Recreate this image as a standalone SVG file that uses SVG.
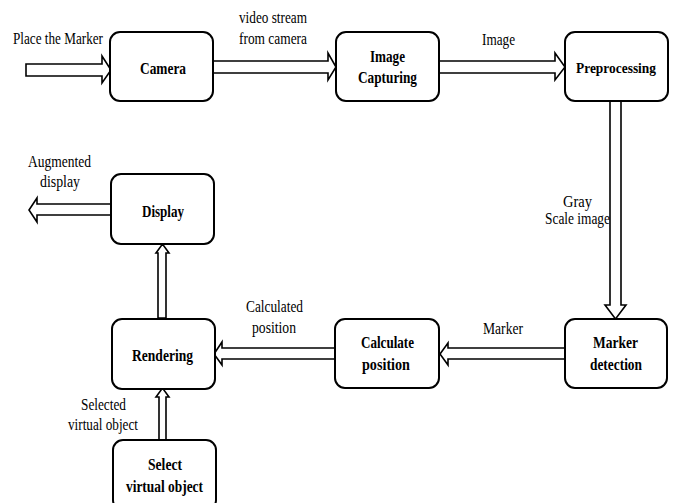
<svg xmlns="http://www.w3.org/2000/svg" width="673" height="503" viewBox="0 0 673 503">
<style>
.box{fill:#fff;stroke:#000;stroke-width:2}
.arr{fill:#fff;stroke:#000;stroke-width:1.6;stroke-linejoin:miter}
.n{font-family:"Liberation Serif","Times New Roman",serif;font-weight:bold;font-size:17px;fill:#000}
.l{font-family:"Liberation Serif","Times New Roman",serif;font-size:16px;fill:#000}
</style>
<rect width="673" height="503" fill="#fff"/>
<g id="connectors">
<polygon class="arr" points="26,64 102,64 102,56 111,70 102,83 102,76 26,76"/>
<polygon class="arr" points="213,61 328,61 328,53 336,67 328,80 328,73 213,73"/>
<polygon class="arr" points="439,61 555,61 555,53 565,67 555,80 555,73 439,73"/>
<polygon class="arr" points="610,101 621,101 621,305 626,305 615.5,319 605,305 610,305"/>
<polygon class="arr" points="565,348 448,348 448,343 440,354 448,365 448,359 565,359"/>
<polygon class="arr" points="335,348 222,348 222,342 214,354 222,365 222,359 335,359"/>
<polygon class="arr" points="158,318 158,253 156,253 162.5,244 169,253 166,253 166,318"/>
<polygon class="arr" points="159,440 159,397 156,397 162.5,388 169,397 166,397 166,440"/>
<polygon class="arr" points="111,204 37,204 37,198 29,210 37,222 37,215 111,215"/>
</g>
<g id="camera"><rect class="box" x="110" y="32" width="103" height="69" rx="10"/><text class="n" x="140" y="74" textLength="46" lengthAdjust="spacingAndGlyphs">Camera</text></g>
<g id="image-capturing"><rect class="box" x="336" y="32" width="103" height="69" rx="10"/><text class="n" x="370" y="62" textLength="35" lengthAdjust="spacingAndGlyphs">Image</text><text class="n" x="358" y="83" textLength="59" lengthAdjust="spacingAndGlyphs">Capturing</text></g>
<g id="preprocessing"><rect class="box" x="565" y="32" width="103" height="69" rx="10"/><text class="n" x="576" y="73" style="font-size:15px" textLength="80" lengthAdjust="spacingAndGlyphs">Preprocessing</text></g>
<g id="marker-detection"><rect class="box" x="565" y="319" width="102" height="69" rx="10"/><text class="n" x="593" y="348" textLength="45" lengthAdjust="spacingAndGlyphs">Marker</text><text class="n" x="590" y="370" textLength="52" lengthAdjust="spacingAndGlyphs">detection</text></g>
<g id="calculate-position"><rect class="box" x="335" y="319" width="104" height="69" rx="10"/><text class="n" x="361" y="348" textLength="53" lengthAdjust="spacingAndGlyphs">Calculate</text><text class="n" x="362" y="370" textLength="48" lengthAdjust="spacingAndGlyphs">position</text></g>
<g id="rendering"><rect class="box" x="112" y="319" width="103" height="70" rx="10"/><text class="n" x="132" y="361" textLength="61" lengthAdjust="spacingAndGlyphs">Rendering</text></g>
<g id="display"><rect class="box" x="111" y="174" width="103" height="70" rx="10"/><text class="n" x="142" y="217" textLength="42" lengthAdjust="spacingAndGlyphs">Display</text></g>
<g id="select-virtual-object"><rect class="box" x="113" y="440" width="103" height="70" rx="10"/><text class="n" x="148" y="470" textLength="34" lengthAdjust="spacingAndGlyphs">Select</text><text class="n" x="126" y="492" textLength="77" lengthAdjust="spacingAndGlyphs">virtual object</text></g>
<g id="labels">
<text class="l" x="13" y="44" textLength="90" lengthAdjust="spacingAndGlyphs">Place the Marker</text>
<text class="l" x="239" y="23" textLength="68" lengthAdjust="spacingAndGlyphs">video stream</text>
<text class="l" x="239" y="44" textLength="68" lengthAdjust="spacingAndGlyphs">from camera</text>
<text class="l" x="482" y="45" textLength="33" lengthAdjust="spacingAndGlyphs">Image</text>
<text class="l" x="563" y="207" textLength="29" lengthAdjust="spacingAndGlyphs">Gray</text>
<text class="l" x="545" y="224" textLength="65" lengthAdjust="spacingAndGlyphs">Scale image</text>
<text class="l" x="483" y="334" textLength="40" lengthAdjust="spacingAndGlyphs">Marker</text>
<text class="l" x="246" y="312" textLength="57" lengthAdjust="spacingAndGlyphs">Calculated</text>
<text class="l" x="252" y="333" textLength="44" lengthAdjust="spacingAndGlyphs">position</text>
<text class="l" x="28" y="167" textLength="63" lengthAdjust="spacingAndGlyphs">Augmented</text>
<text class="l" x="40" y="187" textLength="40" lengthAdjust="spacingAndGlyphs">display</text>
<text class="l" x="81" y="410" textLength="45" lengthAdjust="spacingAndGlyphs">Selected</text>
<text class="l" x="68" y="430" textLength="70" lengthAdjust="spacingAndGlyphs">virtual object</text>
</g>
</svg>
